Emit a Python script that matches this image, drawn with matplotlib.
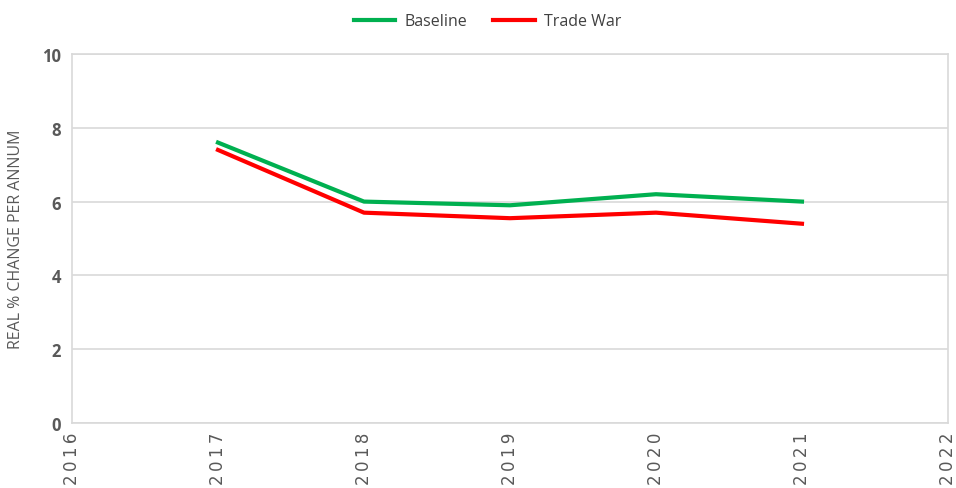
import matplotlib.pyplot as plt

years = [2017, 2018, 2019, 2020, 2021]
baseline = [7.6, 6.0, 5.9, 6.2, 6.0]
trade_war = [7.4, 5.7, 5.55, 5.7, 5.4]
xticks = [2016, 2017, 2018, 2019, 2020, 2021, 2022]
yticks = [0, 2, 4, 6, 8, 10]

plt.rcParams['font.family'] = ['Open Sans', 'DejaVu Sans']

fig = plt.figure(figsize=(9.56, 4.89), dpi=100)
ax = fig.add_axes([0.0753, 0.133, 0.9163, 0.7545])

ax.plot(years, baseline, color='#00b050', lw=3, label='Baseline')
ax.plot(years, trade_war, color='#ff0000', lw=3, label='Trade War')

ax.set_xlim(2016, 2022)
ax.set_ylim(0, 10)
ax.set_xticks(xticks)
ax.set_yticks(yticks)
# spaced-out digits like the original
ax.set_xticklabels(['\u2009'.join(str(y)) for y in xticks], rotation=90,
                   fontsize=12, color='#595959', family='DejaVu Sans')
ax.set_yticklabels([str(v) for v in yticks], fontsize=12, fontweight='bold', color='#595959')
ax.tick_params(axis='y', length=0, pad=8)
ax.tick_params(axis='x', length=0, pad=6)
ax.grid(axis='y', color='#d9d9d9', lw=1.2)
ax.set_axisbelow(True)
for s in ax.spines.values():
    s.set_color('#d9d9d9')
    s.set_linewidth(1.2)

ax.set_ylabel('REAL % CHANGE PER ANNUM', fontsize=11.5, color='#595959')
ax.yaxis.set_label_coords(-0.055, 0.5)

fig.legend(loc='upper center', bbox_to_anchor=(0.51, 1.0), ncol=2, frameon=False,
           fontsize=11.5, handlelength=2.6, handletextpad=0.6, columnspacing=1.6,
           labelcolor='#404040')

fig.savefig('out.png', dpi=100)
